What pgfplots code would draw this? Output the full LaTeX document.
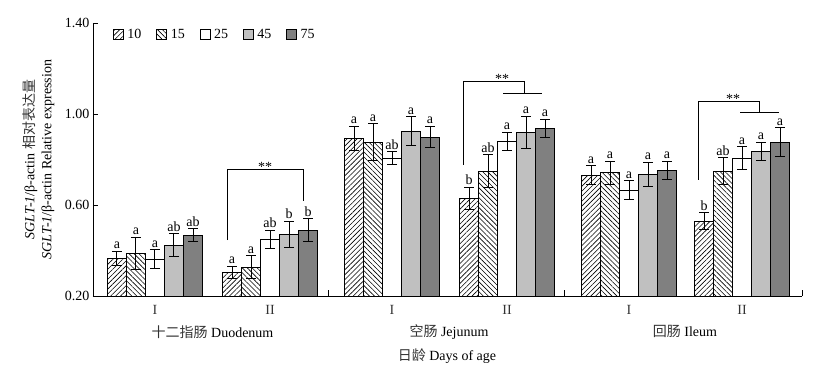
\documentclass[border=0pt]{standalone}
\usepackage{fontspec}
\setmainfont{Liberation Serif}
\newfontfamily\cjk{Noto Sans CJK SC}
\usepackage{pgfplots}
\pgfplotsset{compat=1.18}
\usepackage{pgfplotstable}
\usetikzlibrary{patterns,patterns.meta}

\definecolor{gA}{HTML}{C0C0C0}
\definecolor{gB}{HTML}{808080}
\newcommand{\fs}{\fontsize{14}{17}\selectfont}

% x = subgroup centre (62,177,299,414,536,649) + bar offset
\pgfplotstableread{
x y e lab
24 0.366 0.031 a
139 0.304 0.027 a
261 0.893 0.053 a
376 0.628 0.049 b
498 0.731 0.041 a
611 0.528 0.037 b
}\tA
\pgfplotstableread{
x y e lab
43 0.388 0.070 a
158 0.326 0.050 a
280 0.876 0.082 a
395 0.748 0.072 ab
517 0.742 0.050 a
630 0.748 0.060 ab
}\tB
\pgfplotstableread{
x y e lab
62 0.361 0.042 a
177 0.449 0.039 ab
299 0.805 0.028 ab
414 0.880 0.040 a
536 0.665 0.041 a
649 0.805 0.050 a
}\tC
\pgfplotstableread{
x y e lab
81 0.423 0.050 ab
196 0.471 0.058 b
318 0.925 0.062 a
433 0.920 0.070 a
555 0.735 0.052 a
668 0.836 0.039 a
}\tD
\pgfplotstableread{
x y e lab
100 0.467 0.028 ab
215 0.489 0.050 b
337 0.898 0.047 a
452 0.937 0.041 a
574 0.752 0.041 a
687 0.876 0.063 a
}\tE

\pgfplotsset{
 mybar/.style={ybar, bar width=19pt, bar shift=0pt, draw=black, line width=0.8pt,
   point meta=explicit symbolic,
   nodes near coords={\pgfplotspointmeta},
   visualization depends on={\thisrow{e} \as \myerr},
   every node near coord/.append style={black, font=\fs, inner sep=2pt, yshift=\myerr*227.5pt},
   legend image code/.code={\draw[##1, line width=0.8pt] (0pt,-5pt) rectangle (10pt,5pt);},
   /pgfplots/error bars/y dir=both, /pgfplots/error bars/y explicit,
   /pgfplots/error bars/error bar style={line width=1pt,black,solid},
   /pgfplots/error bars/error mark options={rotate=90,mark size=5pt,line width=1pt,black}},
}

\begin{document}
\begin{tikzpicture}[font=\fs]
\useasboundingbox (-93pt,-86pt) rectangle (731pt,296pt);
\begin{axis}[
  scale only axis, width=709pt, height=273pt,
  xmin=0, xmax=709, ymin=0.2, ymax=1.4,
  axis x line*=bottom, axis y line*=left,
  axis line style={-, line width=0.9pt, black},
  ytick={0.2,0.6,1.0,1.4},
  tick label style={font=\fs},
  yticklabel style={/pgf/number format/.cd, fixed, fixed zerofill, precision=2, assume math mode=true},
  tick align=inside, major tick length=5pt,
  ytick style={line width=0.9pt, black},
  xtick={62,177,299,414,536,649},
  xticklabels={I,II,I,II,I,II},
  xtick style={draw=none},
  xticklabel style={yshift=-6pt, text=black!80},
  clip=false,
  legend columns=5,
  legend style={draw=none, fill=none, inner sep=0pt, font=\fs,
    at={(rel axis cs:0.0282,0.957)}, anchor=west,
    nodes={inner sep=3.5pt, text=black},
    /tikz/every even column/.append style={column sep=11.5pt}},
]
\addplot[mybar, pattern={Lines[angle=45,distance=3.5pt,line width=0.6pt]}] table[x=x,y=y,y error=e,meta=lab] {\tA};
\addlegendentry{10}
\addplot[mybar, pattern={Lines[angle=-45,distance=3.5pt,line width=0.6pt]}] table[x=x,y=y,y error=e,meta=lab] {\tB};
\addlegendentry{15}
\addplot[mybar, fill=white] table[x=x,y=y,y error=e,meta=lab] {\tC};
\addlegendentry{25}
\addplot[mybar, fill=gA] table[x=x,y=y,y error=e,meta=lab] {\tD};
\addlegendentry{45}
\addplot[mybar, fill=gB] table[x=x,y=y,y error=e,meta=lab] {\tE};
\addlegendentry{75}

% group separator ticks
\draw[line width=0.9pt] (axis cs:235,0.2) -- ++(0pt,6pt);
\draw[line width=0.9pt] (axis cs:471,0.2) -- ++(0pt,6pt);
\draw[line width=0.9pt] (axis cs:709,0.2) -- ++(0pt,6pt);

% significance brackets
\draw[line width=0.8pt] (axis cs:134,0.446) -- (axis cs:134,0.757) -- (axis cs:210,0.757) -- (axis cs:210,0.619);
\node[font=\fs, anchor=base, inner sep=0pt, yshift=-2.5pt] at (axis cs:172,0.757) {**};
\draw[line width=0.8pt] (axis cs:370,0.776) -- (axis cs:370,1.144) -- (axis cs:431,1.144) -- (axis cs:431,1.091);
\draw[line width=0.8pt] (axis cs:410,1.091) -- (axis cs:449,1.091);
\node[font=\fs, anchor=base, inner sep=0pt, yshift=-2.5pt] at (axis cs:409,1.144) {**};
\draw[line width=0.8pt] (axis cs:605,0.710) -- (axis cs:605,1.056) -- (axis cs:666,1.056) -- (axis cs:666,1.006);
\draw[line width=0.8pt] (axis cs:647,1.006) -- (axis cs:686,1.006);
\node[font=\fs, anchor=base, inner sep=0pt, yshift=-2.5pt] at (axis cs:640,1.056) {**};

% group labels
\path (axis cs:119.5,0.2) ++(0pt,-35.7pt) node[font=\fs] {{\cjk\color{black!80}十二指肠} Duodenum};
\path (axis cs:356,0.2) ++(0pt,-35.7pt) node[font=\fs] {{\cjk\color{black!80}空肠} Jejunum};
\path (axis cs:592,0.2) ++(0pt,-35.7pt) node[font=\fs] {{\cjk\color{black!80}回肠} Ileum};
\path (axis cs:354,0.2) ++(0pt,-60pt) node[font=\fs] {{\cjk\color{black!80}日龄} Days of age};

% y label
\path (rel axis cs:0,0.5) ++(-54.5pt,0pt) node[rotate=90, align=center, font=\fs]
  {\textit{SGLT-1}/β-actin {\cjk\color{black!80}相对表达量}\\ \textit{SGLT-1}/β-actin Relative expression};
\end{axis}
\end{tikzpicture}
\end{document}
